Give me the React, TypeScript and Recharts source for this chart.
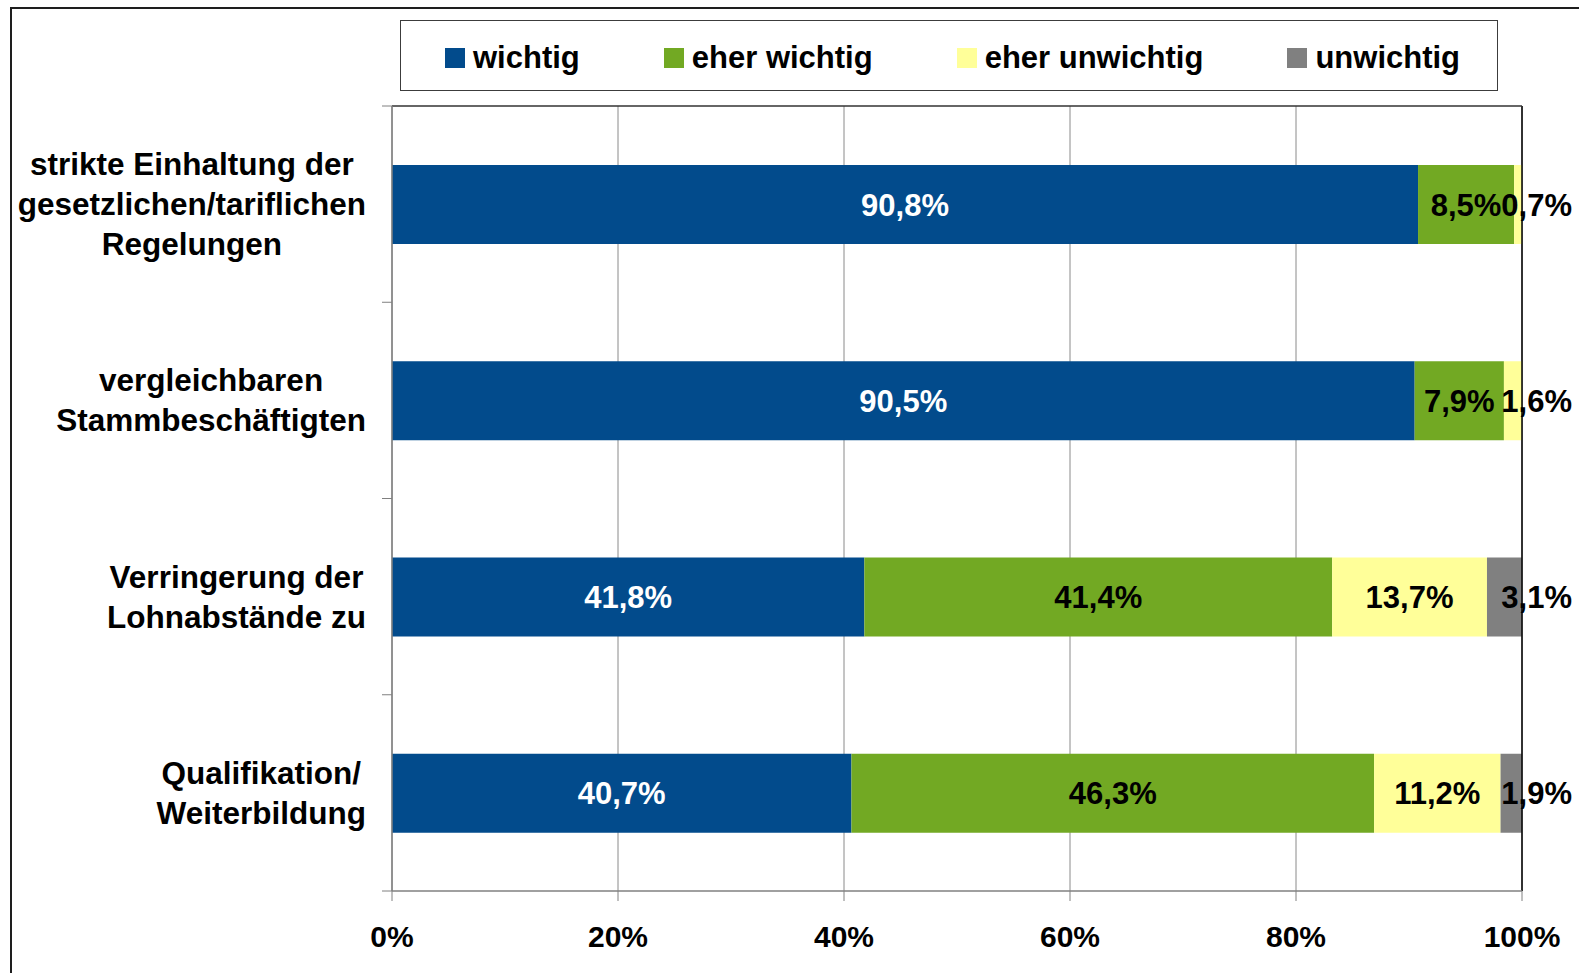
import { Bar, BarChart, CartesianGrid, LabelList, ReferenceLine, XAxis, YAxis } from 'recharts'

const FONT = "'Liberation Sans', Arial, sans-serif"

const categories = [
	'strikte Einhaltung der\ngesetzlichen/tariflichen\nRegelungen',
	'vergleichbaren\nStammbeschäftigten',
	'Verringerung der\nLohnabstände zu',
	'Qualifikation/\nWeiterbildung',
]
const wichtig = [90.8, 90.5, 41.8, 40.7]
const eherWichtig = [8.5, 7.9, 41.4, 46.3]
const eherUnwichtig = [0.7, 1.6, 13.7, 11.2]
const unwichtig = [0, 0, 3.1, 1.9]

const seriesKeys = ['wichtig', 'eherWichtig', 'eherUnwichtig', 'unwichtig']
const seriesNames = ['wichtig', 'eher wichtig', 'eher unwichtig', 'unwichtig']
const seriesColors = ['#024b8c', '#72a923', '#ffff99', '#808080']
const labelColors = ['#ffffff', '#000000', '#000000', '#000000']
const xTicks = [0, 0.2, 0.4, 0.6, 0.8, 1]

const data = categories.map((name, i) => ({
	name,
	wichtig: wichtig[i],
	eherWichtig: eherWichtig[i],
	eherUnwichtig: eherUnwichtig[i],
	unwichtig: unwichtig[i],
}))

const Y_TICK_SIZE = 10
const Y_TICK_MARGIN = 16
const CAT_FONT = 31.5

let ctx: CanvasRenderingContext2D | null = null
const textWidth = (s: string, size: number) => {
	if (!ctx) ctx = document.createElement('canvas').getContext('2d')
	if (!ctx) return s.length * size * 0.55
	ctx.font = `bold ${size}px ${FONT}`
	return ctx.measureText(s).width
}

const CategoryTick = (props: any) => {
	const { x, y, payload, index } = props
	const lines = String(payload.value).split('\n')
	const widest = Math.max(...lines.map((l) => textWidth(l, CAT_FONT)))
	const cx = x - widest / 2
	const first = y - ((lines.length - 1) * 40) / 2 + 11
	const axisX = x + Y_TICK_MARGIN + Y_TICK_SIZE
	const half = payload.offset ?? 98
	return (
		<g>
			<line x1={axisX - Y_TICK_SIZE} x2={axisX} y1={y - half} y2={y - half} stroke="#808080" />
			{index === categories.length - 1 && (
				<line x1={axisX - Y_TICK_SIZE} x2={axisX} y1={y + half} y2={y + half} stroke="#808080" />
			)}
			<text textAnchor="middle" fontFamily={FONT} fontWeight="bold" fontSize={CAT_FONT} fill="#000">
				{lines.map((l, i) => (
					<tspan key={i} x={cx} y={first + i * 40}>
						{l}
					</tspan>
				))}
			</text>
		</g>
	)
}

const makeLabel = (color: string) => (props: any) => {
	const { x, y, width, height, value } = props
	if (!value) return null
	const text = String(value).replace('.', ',') + '%'
	const small = width < 45
	return (
		<text
			x={small ? x + width + 50 : x + width / 2}
			y={y + height / 2 + 11}
			textAnchor={small ? 'end' : 'middle'}
			fontFamily={FONT}
			fontWeight="bold"
			fontSize={31}
			fill={color}
		>
			{text}
		</text>
	)
}

const App = () => {
	return (
		<div style={{ position: 'fixed', left: 0, top: 0, width: 1579, height: 973, overflow: 'hidden', background: '#fff' }}>
			<div
				style={{
					position: 'absolute',
					left: 10,
					top: 7,
					width: 1620,
					height: 1020,
					border: '2px solid #1e1e1e',
				}}
			/>
			<div
				style={{
					position: 'absolute',
					left: 400,
					top: 20,
					width: 1098,
					height: 71,
					boxSizing: 'border-box',
					border: '1.5px solid #3c3c3c',
					display: 'flex',
					alignItems: 'center',
					paddingLeft: 44,
					paddingTop: 4,
					gap: 84,
					fontFamily: FONT,
					fontWeight: 'bold',
					fontSize: 31,
					color: '#000',
				}}
			>
				{seriesNames.map((n, i) => (
					<div key={n} style={{ display: 'flex', alignItems: 'center', whiteSpace: 'nowrap' }}>
						<span style={{ display: 'inline-block', width: 20, height: 20, background: seriesColors[i], marginRight: 8 }} />
						{n}
					</div>
				))}
			</div>
			<div style={{ position: 'absolute', left: 0, top: 0 }}>
				<BarChart
					width={1579}
					height={973}
					data={data}
					layout="vertical"
					stackOffset="expand"
					margin={{ top: 105, right: 57, left: 12, bottom: 22 }}
				>
					<CartesianGrid horizontal={false} stroke="#8a8a8a" />
					<XAxis
						type="number"
						domain={[0, 1]}
						ticks={xTicks}
						tickFormatter={(v) => `${Math.round(v * 100)}%`}
						height={60}
						tickSize={10}
						tickMargin={25}
						axisLine={{ stroke: '#808080', strokeWidth: 1.5 }}
						tickLine={{ stroke: '#808080' }}
						tick={{ fill: '#000', fontFamily: FONT, fontWeight: 'bold', fontSize: 30 }}
					/>
					<XAxis
						xAxisId="top"
						orientation="top"
						type="number"
						domain={[0, 1]}
						ticks={xTicks}
						height={1}
						tick={false}
						tickLine={false}
						axisLine={{ stroke: '#333', strokeWidth: 1.5 }}
					/>
					<YAxis
						type="category"
						dataKey="name"
						width={380}
						tickSize={Y_TICK_SIZE}
						tickMargin={Y_TICK_MARGIN}
						tickLine={false}
						axisLine={{ stroke: '#808080', strokeWidth: 1.5 }}
						tick={<CategoryTick />}
						interval={0}
					/>
					<ReferenceLine x={1} stroke="#000" strokeWidth={1.5} />
					{seriesKeys.map((k, i) => (
						<Bar key={k} dataKey={k} name={seriesNames[i]} stackId="a" fill={seriesColors[i]} barSize={79} isAnimationActive={false}>
							<LabelList dataKey={k} content={makeLabel(labelColors[i])} />
						</Bar>
					))}
				</BarChart>
			</div>
		</div>
	)
}

export default App
